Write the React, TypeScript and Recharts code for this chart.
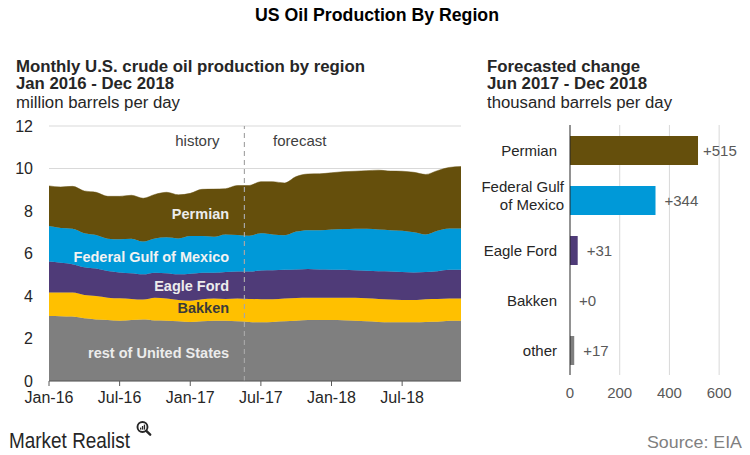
import React from 'react';
import {
  AreaChart, Area, BarChart, Bar, XAxis, YAxis, CartesianGrid,
  ReferenceLine, ReferenceDot, Cell,
} from 'recharts';

const months = [
  'Jan-16','Feb-16','Mar-16','Apr-16','May-16','Jun-16','Jul-16','Aug-16','Sep-16','Oct-16','Nov-16','Dec-16',
  'Jan-17','Feb-17','Mar-17','Apr-17','May-17','Jun-17','Jul-17','Aug-17','Sep-17','Oct-17','Nov-17','Dec-17',
  'Jan-18','Feb-18','Mar-18','Apr-18','May-18','Jun-18','Jul-18','Aug-18','Sep-18','Oct-18','Nov-18','Dec-18',
];
const xTickIdx = [0, 6, 12, 18, 24, 30];
const yTicks = [0, 2, 4, 6, 8, 10, 12];

const restOfUS = [3.06,3.05,3.03,2.95,2.90,2.87,2.84,2.87,2.89,2.85,2.84,2.81,2.78,2.81,2.83,2.83,2.81,2.78,2.76,2.78,2.81,2.84,2.87,2.87,2.87,2.86,2.84,2.81,2.78,2.76,2.76,2.76,2.78,2.79,2.83,2.84];
const bakken = [1.11,1.12,1.13,1.10,1.10,1.05,1.05,0.99,0.94,1.07,1.04,1.00,1.00,1.04,1.05,1.03,1.07,1.08,1.09,1.07,1.07,1.07,1.05,1.05,1.05,1.06,1.08,1.08,1.08,1.07,1.05,1.05,1.07,1.07,1.05,1.04];
const eagleFord = [1.45,1.40,1.34,1.30,1.29,1.26,1.22,1.21,1.19,1.18,1.19,1.21,1.27,1.25,1.22,1.27,1.27,1.29,1.35,1.36,1.35,1.34,1.35,1.33,1.32,1.31,1.29,1.30,1.30,1.32,1.32,1.30,1.28,1.30,1.35,1.35];
const gulfOfMexico = [1.67,1.63,1.67,1.60,1.58,1.52,1.56,1.63,1.54,1.61,1.69,1.69,1.77,1.72,1.69,1.77,1.72,1.69,1.75,1.69,1.63,1.78,1.83,1.85,1.89,1.92,1.96,1.98,1.97,1.95,1.94,1.89,1.77,1.91,1.95,1.95];
const permian = [1.89,1.93,1.99,1.99,2.01,1.99,2.02,2.04,2.04,2.07,2.12,2.05,2.01,2.20,2.24,2.15,2.33,2.36,2.43,2.48,2.46,2.59,2.64,2.65,2.67,2.70,2.70,2.73,2.79,2.78,2.80,2.82,2.82,2.83,2.87,2.91];

const changeRegions = ['Permian', 'Federal Gulf\nof Mexico', 'Eagle Ford', 'Bakken', 'other'];
const changeValues = [515, 344, 31, 0, 17];
const changeTicks = [0, 200, 400, 600];
const changeMax = 700;

const C_PERM = '#654f0c';
const C_GULF = '#0099d8';
const C_EAGLE = '#4f3b78';
const C_BAK = '#ffc000';
const C_REST = '#7f7f7f';
const changeColors = [C_PERM, C_GULF, C_EAGLE, C_BAK, C_REST];

const areaData = months.map((m, i) => ({
  idx: i,
  month: m,
  rest: restOfUS[i],
  bakken: bakken[i],
  eagle: eagleFord[i],
  gulf: gulfOfMexico[i],
  permian: permian[i],
}));

const barData = changeRegions.map((r, i) => ({ region: r, value: changeValues[i] }));

const FONT = '"Liberation Sans", Arial, sans-serif';
const NARROW = '"Liberation Sans Narrow", "Liberation Sans", Arial, sans-serif';

const areaLabels = [
  { text: 'Permian', x: 15.3, y: 7.86, fill: '#ececec' },
  { text: 'Federal Gulf of Mexico', x: 15.3, y: 5.84, fill: '#f2f2f2' },
  { text: 'Eagle Ford', x: 15.3, y: 4.47, fill: '#ececec' },
  { text: 'Bakken', x: 15.3, y: 3.44, fill: '#3a3a3a' },
  { text: 'rest of United States', x: 15.3, y: 1.32, fill: '#ececec' },
];

const makeTextShape = (text: string, fill: string, anchor: string, weight: string, size: number, dx = 0) =>
  (props: any) => (
    <text
      x={props.cx + dx}
      y={props.cy}
      textAnchor={anchor}
      dominantBaseline="central"
      fill={fill}
      fontWeight={weight}
      fontSize={size}
      fontFamily={FONT}
    >
      {text}
    </text>
  );

const RegionTick = (props: any) => {
  const { x, y, payload } = props;
  const lines = String(payload.value).split('\n');
  if (lines.length > 1) {
    return (
      <text textAnchor="end" fill="#262626" fontSize={15} fontFamily={FONT}>
        <tspan x={x - 6} y={y - 13.5} dominantBaseline="central">{lines[0]}</tspan>
        <tspan x={x - 6} y={y + 4} dominantBaseline="central">{lines[1]}</tspan>
      </text>
    );
  }
  return (
    <text x={x - 13} y={y} textAnchor="end" dominantBaseline="central" fill="#262626" fontSize={15} fontFamily={FONT}>
      {lines[0]}
    </text>
  );
};

const gridGen = (args: any) => {
  const { xAxis, offset } = args || {};
  const inner = changeTicks.filter((t) => t > 0);
  if (xAxis && typeof xAxis.scale === 'function') {
    return inner.map((t) => xAxis.scale(t));
  }
  return inner.map((t) => offset.left + (t / changeMax) * offset.width);
};

export default function App() {
  return (
    <div style={{ position: 'absolute', left: 0, top: 0, width: 750, height: 455, background: '#fff', fontFamily: FONT, overflow: 'hidden' }}>
      <div style={{ position: 'absolute', left: 0, top: 0 }}>
        <AreaChart width={475} height={420} data={areaData} margin={{ top: 126, right: 14, bottom: 9, left: 8 }}>
          <CartesianGrid horizontal vertical={false} stroke="#d9d9d9" />
          <XAxis
            dataKey="idx"
            type="number"
            domain={[0, 35]}
            ticks={xTickIdx}
            tickFormatter={(v: number) => months[v]}
            height={30}
            stroke="#595959"
            tickSize={5}
            tickMargin={6}
            tick={{ fill: '#262626', fontSize: 16, fontFamily: FONT }}
            interval={0}
          />
          <YAxis
            type="number"
            domain={[0, 12]}
            ticks={yTicks}
            width={41}
            axisLine={false}
            tickLine={false}
            tickSize={6}
            tickMargin={10}
            tick={{ fill: '#262626', fontSize: 16, fontFamily: FONT }}
            interval={0}
          />
          <Area type="monotone" dataKey="rest" stackId="1" fill={C_REST} stroke={C_REST} strokeWidth={0.5} fillOpacity={1} isAnimationActive={false} />
          <Area type="monotone" dataKey="bakken" stackId="1" fill={C_BAK} stroke={C_BAK} strokeWidth={0.5} fillOpacity={1} isAnimationActive={false} />
          <Area type="monotone" dataKey="eagle" stackId="1" fill={C_EAGLE} stroke={C_EAGLE} strokeWidth={0.5} fillOpacity={1} isAnimationActive={false} />
          <Area type="monotone" dataKey="gulf" stackId="1" fill={C_GULF} stroke={C_GULF} strokeWidth={0.5} fillOpacity={1} isAnimationActive={false} />
          <Area type="monotone" dataKey="permian" stackId="1" fill={C_PERM} stroke={C_PERM} strokeWidth={0.5} fillOpacity={1} isAnimationActive={false} />
          <ReferenceLine x={16.6} stroke="#a6a6a6" strokeWidth={1.2} strokeDasharray="5 4" />
          <ReferenceDot x={12.6} y={11.34} r={0} shape={makeTextShape('history', '#404040', 'middle', 'normal', 15)} />
          <ReferenceDot x={21.3} y={11.34} r={0} shape={makeTextShape('forecast', '#404040', 'middle', 'normal', 15)} />
          {areaLabels.map((l) => (
            <ReferenceDot key={l.text} x={l.x} y={l.y} r={0} shape={makeTextShape(l.text, l.fill, 'end', 'bold', 14.5)} />
          ))}
        </AreaChart>
      </div>

      <div style={{ position: 'absolute', left: 460, top: 0 }}>
        <BarChart width={290} height={420} data={barData} layout="vertical" barSize={29} margin={{ top: 125, right: 6, bottom: 15, left: 0 }}>
          <CartesianGrid horizontal={false} vertical stroke="#d9d9d9" verticalCoordinatesGenerator={gridGen} />
          <XAxis
            type="number"
            domain={[0, changeMax]}
            ticks={changeTicks}
            axisLine={false}
            tickLine={false}
            tickSize={6}
            tickMargin={6}
            height={30}
            tick={{ fill: '#595959', fontSize: 15, fontFamily: FONT }}
            interval={0}
          />
          <YAxis
            type="category"
            dataKey="region"
            width={110}
            stroke="#262626"
            tickLine={false}
            tickSize={0}
            tickMargin={0}
            tick={<RegionTick />}
            interval={0}
          />
          <Bar dataKey="value" isAnimationActive={false}>
            {barData.map((d, i) => (
              <Cell key={d.region} fill={changeColors[i]} />
            ))}
          </Bar>
          {barData.map((d) => (
            <ReferenceDot key={d.region} x={d.value} y={d.region} r={0} shape={makeTextShape(`+${d.value}`, '#595959', 'start', 'normal', 15, d.value > 400 ? 5 : 9)} />
          ))}
        </BarChart>
      </div>

      <svg width={750} height={455} style={{ position: 'absolute', left: 0, top: 0, pointerEvents: 'none' }}>
        <text x={255} y={21} fontFamily={NARROW} fontWeight="bold" fontSize={19} fill="#000" textLength={244} lengthAdjust="spacingAndGlyphs">US Oil Production By Region</text>

        <text x={16} y={72} fontFamily={NARROW} fontWeight="bold" fontSize={16} fill="#262626" textLength={349} lengthAdjust="spacingAndGlyphs">Monthly U.S. crude oil production by region</text>
        <text x={16} y={89} fontFamily={NARROW} fontWeight="bold" fontSize={16} fill="#262626" textLength={158} lengthAdjust="spacingAndGlyphs">Jan 2016 - Dec 2018</text>
        <text x={16} y={108} fontFamily={NARROW} fontSize={16} fill="#262626" textLength={164} lengthAdjust="spacingAndGlyphs">million barrels per day</text>

        <text x={487} y={72} fontFamily={NARROW} fontWeight="bold" fontSize={16} fill="#262626" textLength={153} lengthAdjust="spacingAndGlyphs">Forecasted change</text>
        <text x={487} y={89} fontFamily={NARROW} fontWeight="bold" fontSize={16} fill="#262626" textLength={160} lengthAdjust="spacingAndGlyphs">Jun 2017 - Dec 2018</text>
        <text x={487} y={108} fontFamily={NARROW} fontSize={16} fill="#262626" textLength={185} lengthAdjust="spacingAndGlyphs">thousand barrels per day</text>

        <text x={9} y={448} fontFamily={NARROW} fontSize={22} fill="#262626" textLength={121} lengthAdjust="spacingAndGlyphs">Market Realist</text>
        <circle cx={142.5} cy={427} r={5} fill="none" stroke="#262626" strokeWidth={1.9} />
        <rect x={140} y={427.6} width={1.3} height={2} fill="#262626" />
        <rect x={141.9} y={426} width={1.3} height={3.6} fill="#262626" />
        <rect x={143.8} y={424.6} width={1.3} height={5} fill="#262626" />
        <line x1={146.3} y1={430.8} x2={150.2} y2={434.7} stroke="#262626" strokeWidth={2.4} strokeLinecap="round" />

        <text x={647} y={448} fontFamily={FONT} fontSize={17} fill="#7f7f7f" textLength={95} lengthAdjust="spacingAndGlyphs">Source: EIA</text>
      </svg>
    </div>
  );
}
